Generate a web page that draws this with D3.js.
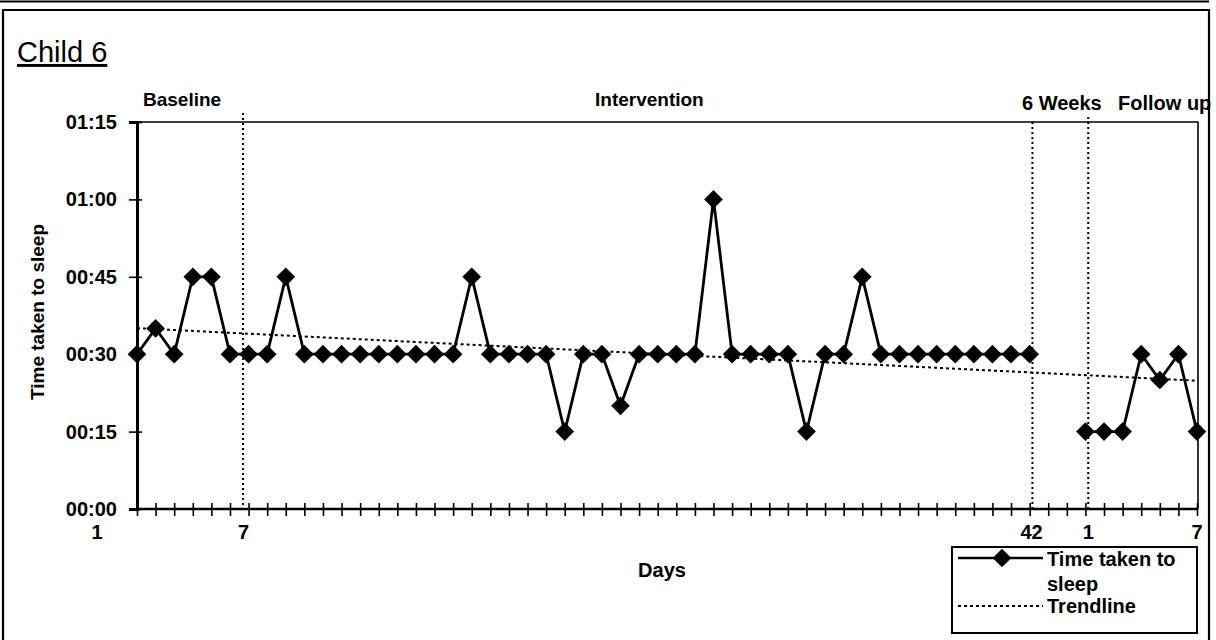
<!DOCTYPE html>
<html>
<head>
<meta charset="utf-8">
<script src="https://cdn.jsdelivr.net/npm/d3@7"></script>
<style>
  html, body { margin: 0; padding: 0; background: #fff; }
  svg { display: block; }
  text { font-family: "Liberation Sans", Arial, sans-serif; fill: #000; }
</style>
</head>
<body>
<svg id="chart" width="1216" height="640"></svg>
<script>
// ---------------- DATA ----------------
const baselineDays = ["B1","B2","B3","B4","B5","B6","B7"];
const interventionDays = d3.range(1, 43).map(d => "I" + d);
const gapDays = ["G1","G2"];
const followUpDays = ["F1","F2","F3","F4","F5","F6","F7"];
const categories = [...baselineDays, ...interventionDays, ...gapDays, ...followUpDays];

// minutes taken to sleep
const baselineValues = [30, 35, 30, 45, 45, 30, 30];
const interventionValues = [30, 45, 30, 30, 30, 30, 30, 30, 30, 30, 30, 45, 30, 30, 30, 30, 15, 30, 30, 20,
                            30, 30, 30, 30, 60, 30, 30, 30, 30, 15, 30, 30, 45, 30, 30, 30, 30, 30, 30, 30,
                            30, 30];
const gapValues = [null, null];
const followUpValues = [15, 15, 15, 30, 25, 30, 15];
const values = [...baselineValues, ...interventionValues, ...gapValues, ...followUpValues];

const yTickValues = [0, 15, 30, 45, 60, 75];
const xTickCats = ["B1", "B7", "I42", "F1", "F7"];
const xTickLabels = ["1", "7", "42", "1", "7"];
const phaseLabels = ["Baseline", "Intervention", "6 Weeks", "Follow up"];
const seriesName = "Time taken to sleep";
const trendName = "Trendline";

// ---------------- DRAW ----------------
const svg = d3.select("#chart");
const x = d3.scalePoint().domain(categories).range([137, 1197]);
const y = d3.scaleLinear().domain([0, 75]).range([509, 122]);
const step = x.step();
const data = categories.map((c, i) => ({ c, i, v: values[i] }));
const pts = data.filter(d => d.v != null);

// outer frame
svg.append("line").attr("x1", 0).attr("x2", 1209).attr("y1", 1.5).attr("y2", 1.5)
  .attr("stroke", "#000").attr("stroke-width", 2);
svg.append("path").attr("d", "M3,640 L3,10 L1209,10 L1209,640")
  .attr("fill", "none").attr("stroke", "#000").attr("stroke-width", 2.2);

// title
svg.append("text").attr("x", 17).attr("y", 62).attr("font-size", 29)
  .attr("text-decoration", "underline").text("Child 6");

// phase labels
const ph = svg.append("g").attr("font-weight", "bold").attr("font-size", 19);
ph.append("text").attr("x", 143).attr("y", 106).text(phaseLabels[0]);
ph.append("text").attr("x", 595).attr("y", 106).text(phaseLabels[1]);
ph.append("text").attr("x", 1022).attr("y", 110).attr("font-size", 20).text(phaseLabels[2]);
ph.append("text").attr("x", 1118).attr("y", 110).attr("font-size", 20).text(phaseLabels[3]);

// plot frame (top and right)
svg.append("path").attr("d", `M${x.range()[0]},${y(75)} L${x.range()[1] + 1},${y(75)} L${x.range()[1] + 1},${y(0)}`)
  .attr("fill", "none").attr("stroke", "#000").attr("stroke-width", 1.6);

// phase dividers (dotted)
const dividers = [
  { xv: x("B7") - 0.3 * step, y0: 113 },
  { xv: x("I42") + 0.15 * step, y0: 122 },
  { xv: x("F1") + 0.15 * step, y0: 117 }
];
svg.append("g").selectAll("line").data(dividers).join("line")
  .attr("x1", d => d.xv).attr("x2", d => d.xv)
  .attr("y1", d => d.y0).attr("y2", y(0))
  .attr("stroke", "#000").attr("stroke-width", 2).attr("stroke-dasharray", "2,3");

// y axis
const yAxis = d3.axisLeft(y).tickValues(yTickValues)
  .tickFormat(m => String(Math.floor(m / 60)).padStart(2, "0") + ":" + String(m % 60).padStart(2, "0"))
  .tickSize(8).tickPadding(12);
const gy = svg.append("g").attr("transform", `translate(${x.range()[0]},0)`).call(yAxis);
gy.select(".domain").attr("stroke-width", 3);
gy.selectAll(".tick line").attr("x1", 5).attr("x2", -8).attr("stroke-width", 1.6);
gy.selectAll(".tick text").attr("font-size", 20).attr("font-weight", "bold")
  .attr("font-family", "Liberation Sans, Arial, sans-serif");

// x axis
const xAxis = d3.axisBottom(x).tickFormat("").tickSize(6).tickSizeOuter(0);
const gx = svg.append("g").attr("transform", `translate(0,${y(0)})`).call(xAxis);
gx.select(".domain").attr("stroke-width", 2.6).attr("d", `M${x.range()[0]},0H${x.range()[1] + 1}`);
gx.selectAll(".tick line").attr("y1", -6).attr("y2", 7).attr("stroke-width", 1.6);

// x tick labels
svg.append("g").attr("font-weight", "bold").attr("font-size", 20).attr("text-anchor", "middle")
  .selectAll("text").data(xTickCats).join("text")
  .attr("x", (c, i) => x(c) + (i === 0 ? -40 : i === 1 ? -5 : i === 2 ? 2 : i === 3 ? 3 : 0))
  .attr("y", 539).text((c, i) => xTickLabels[i]);

// axis titles
svg.append("text").attr("transform", "translate(44,312) rotate(-90)")
  .attr("text-anchor", "middle").attr("font-weight", "bold").attr("font-size", 19).text(seriesName);
svg.append("text").attr("x", 662).attr("y", 577).attr("text-anchor", "middle")
  .attr("font-weight", "bold").attr("font-size", 20).text("Days");

// trendline (least squares on category index)
const mx = d3.mean(pts, d => d.i), my = d3.mean(pts, d => d.v);
const slope = d3.sum(pts, d => (d.i - mx) * (d.v - my)) / d3.sum(pts, d => (d.i - mx) ** 2);
const icpt = my - slope * mx;
const trendPts = [0, categories.length - 1].map(i => ({ i, v: icpt + slope * i }));
svg.append("path").datum(trendPts)
  .attr("d", d3.line().x(d => x(categories[d.i])).y(d => y(d.v)))
  .attr("fill", "none").attr("stroke", "#000").attr("stroke-width", 2).attr("stroke-dasharray", "3,3");

// series line
svg.append("path").datum(data)
  .attr("d", d3.line().defined(d => d.v != null).x(d => x(d.c)).y(d => y(d.v)))
  .attr("fill", "none").attr("stroke", "#000").attr("stroke-width", 2.8);

// markers
const diamond = d3.symbol().type(d3.symbolSquare).size(175);
svg.append("g").selectAll("path").data(pts).join("path")
  .attr("d", diamond)
  .attr("transform", d => `translate(${x(d.c)},${y(d.v)}) rotate(45)`)
  .attr("fill", "#000");

// legend
const lg = svg.append("g");
lg.append("rect").attr("x", 952).attr("y", 547).attr("width", 245).attr("height", 86)
  .attr("fill", "#fff").attr("stroke", "#000").attr("stroke-width", 2);
lg.append("line").attr("x1", 958).attr("x2", 1043).attr("y1", 558).attr("y2", 558)
  .attr("stroke", "#000").attr("stroke-width", 2.4);
lg.append("path").attr("d", diamond).attr("transform", "translate(1002,558) rotate(45)").attr("fill", "#000");
lg.append("line").attr("x1", 958).attr("x2", 1043).attr("y1", 606).attr("y2", 606)
  .attr("stroke", "#000").attr("stroke-width", 2).attr("stroke-dasharray", "3,3");
const lt = lg.append("g").attr("font-weight", "bold").attr("font-size", 20);
lt.append("text").attr("x", 1047).attr("y", 566).text("Time taken to");
lt.append("text").attr("x", 1047).attr("y", 591).text("sleep");
lt.append("text").attr("x", 1047).attr("y", 613).text(trendName);
</script>
</body>
</html>
